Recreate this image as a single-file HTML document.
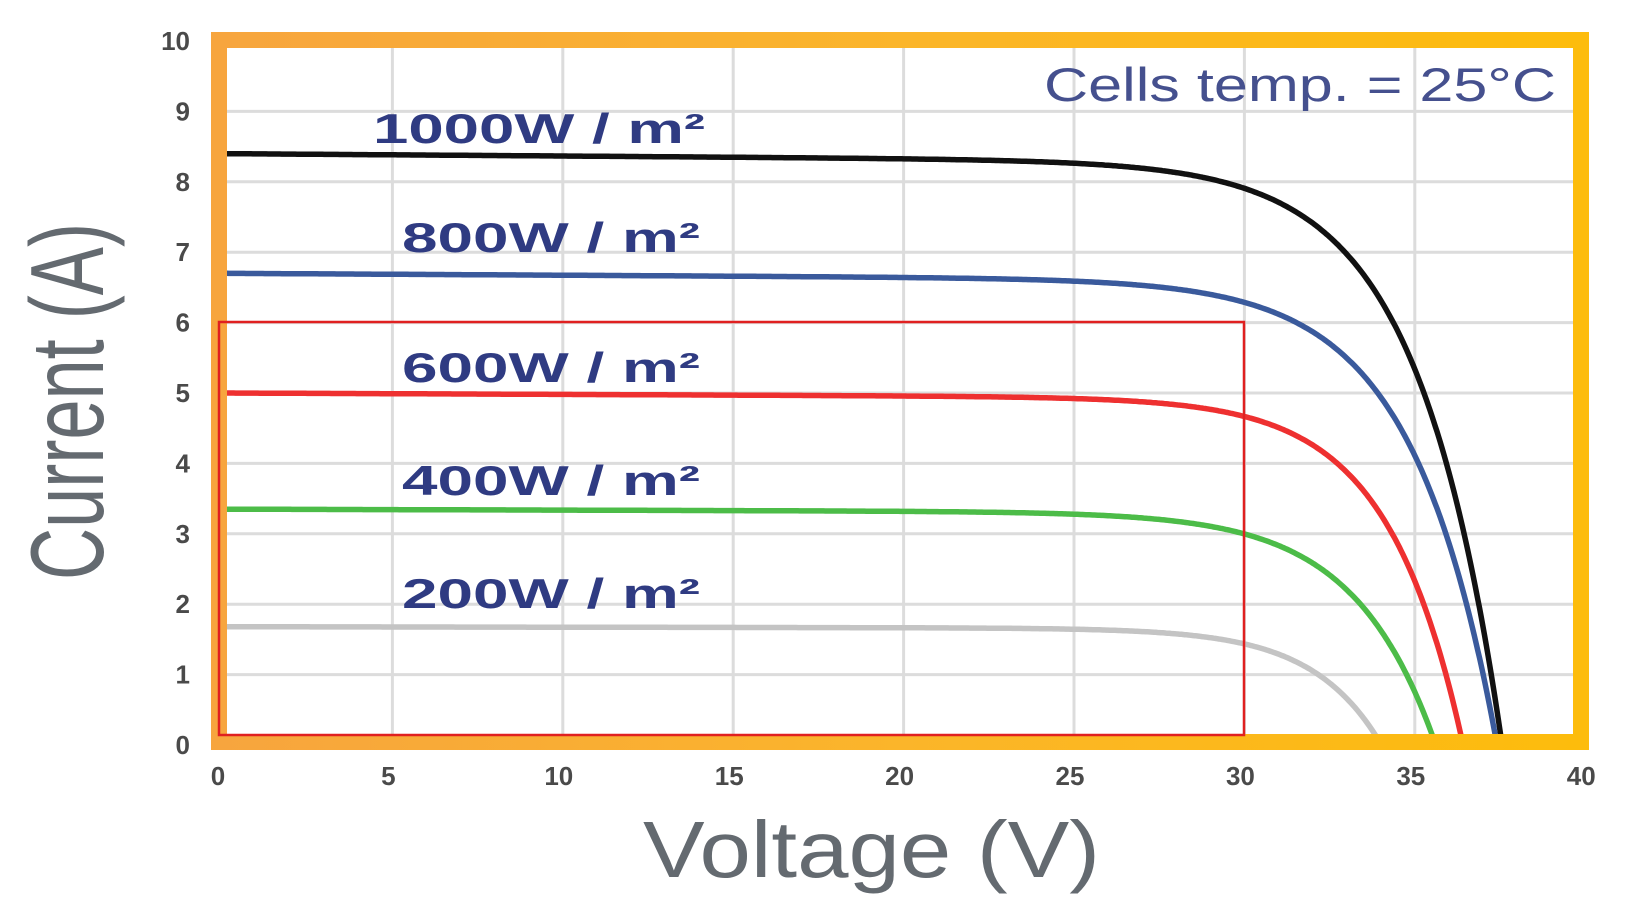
<!DOCTYPE html>
<html><head><meta charset="utf-8"><style>
html,body{margin:0;padding:0;background:#fff;}
svg{display:block;}
</style></head><body>
<svg id="s" width="1631" height="909" viewBox="0 0 1631 909" xmlns="http://www.w3.org/2000/svg">
<defs>
<linearGradient id="og" x1="0" y1="0" x2="1" y2="0">
<stop offset="0" stop-color="#f7a53e"/><stop offset="0.5" stop-color="#fbb52a"/><stop offset="1" stop-color="#fdbc0c"/>
</linearGradient>
<clipPath id="cp"><rect x="226" y="46" width="1348" height="690"/></clipPath>
</defs>
<g id="grid" stroke="#dcdcdc" stroke-width="3"></g>
<g id="curves" clip-path="url(#cp)" fill="none" stroke-width="5.5" stroke-linecap="round"></g>
<rect x="219" y="40" width="1362" height="702" fill="none" stroke="url(#og)" stroke-width="16"/>
<rect x="219" y="322" width="1025" height="413" fill="none" stroke="#e02020" stroke-width="2.5"/>
<g font-family="Liberation Sans, sans-serif" font-weight="bold" fill="#2f3b82" font-size="42">
<text x="373" y="143" textLength="332" lengthAdjust="spacingAndGlyphs">1000W / m²</text>
<text x="402" y="252" textLength="298" lengthAdjust="spacingAndGlyphs">800W / m²</text>
<text x="402" y="382" textLength="298" lengthAdjust="spacingAndGlyphs">600W / m²</text>
<text x="402" y="495" textLength="298" lengthAdjust="spacingAndGlyphs">400W / m²</text>
<text x="402" y="608" textLength="298" lengthAdjust="spacingAndGlyphs">200W / m²</text>
</g>
<text x="1044" y="101" font-family="Liberation Sans, sans-serif" font-size="47" fill="#45508e" textLength="512" lengthAdjust="spacingAndGlyphs">Cells temp. = 25°C</text>
<g id="ticks" font-family="Liberation Sans, sans-serif" font-weight="bold" font-size="26" fill="#4a4a4a"></g>
<text x="643" y="877" font-family="Liberation Sans, sans-serif" font-size="80" fill="#646a70" textLength="457" lengthAdjust="spacingAndGlyphs">Voltage (V)</text>
<text transform="translate(103,580) rotate(-90)" x="0" y="0" font-family="Liberation Sans, sans-serif" font-size="104" fill="#646a70" textLength="357" lengthAdjust="spacingAndGlyphs">Current (A)</text>
</svg>
<script>
var NS="http://www.w3.org/2000/svg";
var X0=222,SX=34.08,Y0=745,SY=70.4;
function el(t,a,p){var e=document.createElementNS(NS,t);for(var k in a)e.setAttribute(k,a[k]);p.appendChild(e);return e;}
var g=document.getElementById('grid');
for(var k=1;k<8;k++){var x=X0+k*5*SX;el('line',{x1:x,y1:46,x2:x,y2:736},g);}
for(var j=1;j<10;j++){var y=Y0-j*SY;el('line',{x1:226,y1:y,x2:1574,y2:y},g);}
var t=document.getElementById('ticks');
for(var j=0;j<=10;j++){var e=el('text',{x:190,y:Y0-j*SY+9,'text-anchor':'end'},t);e.textContent=j;}
for(var k=0;k<=8;k++){var e=el('text',{x:X0+k*5*SX-4,y:785,'text-anchor':'middle'},t);e.textContent=k*5;}
var cs=[[8.4,37.6,2.48,'#111111'],[6.7,37.45,2.48,'#3a5a9c'],[5.0,36.45,2.22,'#ee3030'],[3.35,35.65,2.38,'#4cbc48'],[1.68,34.05,2.01,'#c4c4c4']];
var cg=document.getElementById('curves');
cs.forEach(function(c){
 var d='';for(var v=0;v<=40;v+=0.05){var I=c[0]*(1-0.0004*v)-c[0]*Math.exp((v-c[1])/c[2]);
  if(I<0)I=0;d+=(d?'L':'M')+(X0+v*SX).toFixed(1)+','+(Y0-I*SY).toFixed(1);if(I<=0)break;}
 el('path',{d:d,stroke:c[3]},cg);
});
</script>
</body></html>
